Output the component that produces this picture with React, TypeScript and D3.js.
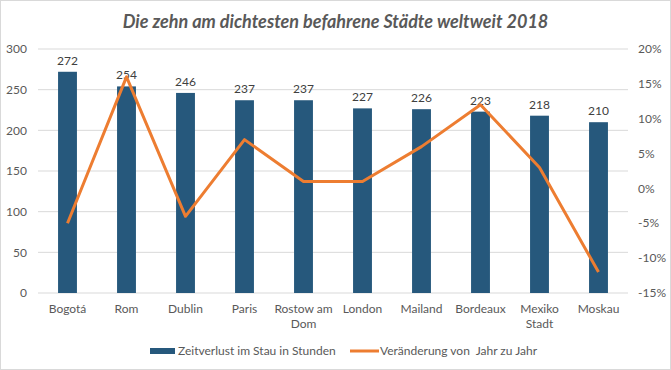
import React from 'react';
import * as d3 from 'd3';

const cities = ['Bogotá', 'Rom', 'Dublin', 'Paris', 'Rostow am Dom', 'London', 'Mailand', 'Bordeaux', 'Mexiko Stadt', 'Moskau'];
const cityLines = [['Bogotá'], ['Rom'], ['Dublin'], ['Paris'], ['Rostow am', 'Dom'], ['London'], ['Mailand'], ['Bordeaux'], ['Mexiko', 'Stadt'], ['Moskau']];
const hours = [272, 254, 246, 237, 237, 227, 226, 223, 218, 210];
const change = [-5, 16, -4, 7, 1, 1, 6, 12, 3, -12];
const leftTicks = [0, 50, 100, 150, 200, 250, 300];
const rightTicks = [-15, -10, -5, 0, 5, 10, 15, 20];

const W = 671;
const H = 370;
const FONT = 'Lato, "Open Sans", sans-serif';
const TXT = '#595959';

const App = () => {
  const margin = { top: 49, right: 43, bottom: 77, left: 38 };
  const x = d3
    .scaleBand()
    .domain(cities)
    .range([margin.left, W - margin.right])
    .paddingInner(0.68)
    .paddingOuter(0.34);
  const y = d3.scaleLinear().domain([0, 300]).range([H - margin.bottom, margin.top]);
  const y2 = d3.scaleLinear().domain([-15, 20]).range([H - margin.bottom, margin.top]);

  const line = d3
    .line<number>()
    .x((d, i) => (x(cities[i]) as number) + x.bandwidth() / 2)
    .y(d => y2(d));

  return (
    <svg
      width={W}
      height={H}
      style={{ position: 'fixed', left: 0, top: 0, background: '#fff' }}
      fontFamily={FONT}
    >
      <rect x={0.5} y={0.5} width={W - 1} height={H - 1} fill="#fff" stroke="#d9d9d9" />
      <text
        x={W / 2}
        y={28}
        textAnchor="middle"
        fontSize={18}
        fontWeight="bold"
        fontStyle="italic"
        fill={TXT}
      >
        Die zehn am dichtesten befahrene Städte weltweit 2018
      </text>

      {/* grid + left axis */}
      {leftTicks.map(t => (
        <g key={t}>
          <line
            x1={margin.left}
            x2={W - margin.right}
            y1={y(t)}
            y2={y(t)}
            stroke="#d9d9d9"
            strokeWidth={1}
          />
          <text x={27} y={y(t)} dy="0.35em" textAnchor="end" fontSize={12} fill={TXT}>
            {t}
          </text>
        </g>
      ))}
      {rightTicks.map(t => (
        <text key={t} x={638} y={y2(t)} dy="0.35em" textAnchor="start" fontSize={12} fill={TXT}>
          {t}%
        </text>
      ))}

      {/* bars */}
      {hours.map((v, i) => (
        <g key={cities[i]}>
          <rect
            x={x(cities[i])}
            y={y(v)}
            width={x.bandwidth()}
            height={y(0) - y(v)}
            fill="#26587c"
          />
          <text
            x={(x(cities[i]) as number) + x.bandwidth() / 2}
            y={y(v) - 7}
            textAnchor="middle"
            fontSize={12}
            fill="#404040"
          >
            {v}
          </text>
        </g>
      ))}

      <path d={line(change) || ''} fill="none" stroke="#ed7d31" strokeWidth={3} strokeLinejoin="round" />

      {/* category labels */}
      {cityLines.map((ls, i) => (
        <text
          key={cities[i]}
          x={(x(cities[i]) as number) + x.bandwidth() / 2}
          y={313}
          textAnchor="middle"
          fontSize={12}
          fill={TXT}
        >
          {ls.map((l, j) => (
            <tspan key={l} x={(x(cities[i]) as number) + x.bandwidth() / 2} dy={j === 0 ? 0 : 15}>
              {l}
            </tspan>
          ))}
        </text>
      ))}

      {/* legend */}
      <rect x={150} y={348} width={25} height={6} fill="#26587c" />
      <text x={178} y={351} dy="0.35em" fontSize={12} fill={TXT}>
        Zeitverlust im Stau in Stunden
      </text>
      <line x1={350} x2={379} y1={351} y2={351} stroke="#ed7d31" strokeWidth={3} />
      <text x={380} y={351} dy="0.35em" fontSize={12} fill={TXT} style={{ whiteSpace: 'pre' }}>
        {'Veränderung von  Jahr zu Jahr'}
      </text>
    </svg>
  );
};

export default App;
